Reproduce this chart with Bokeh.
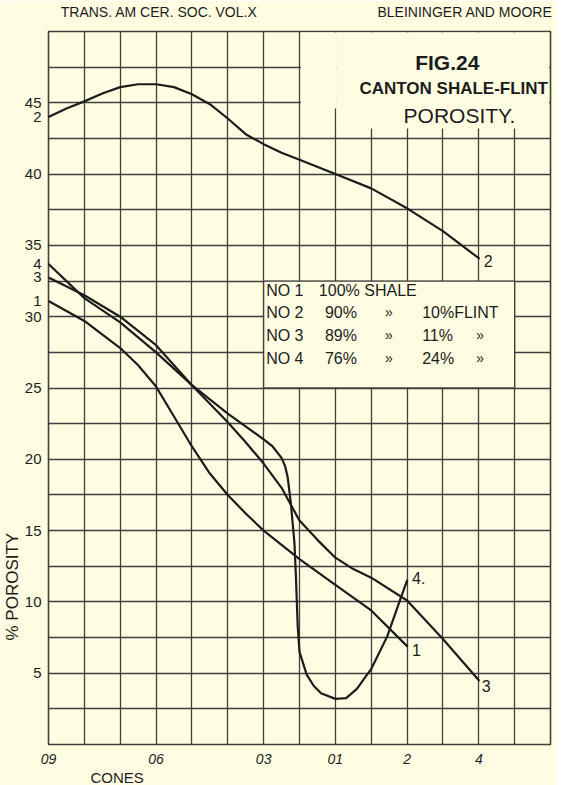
import math
from bokeh.plotting import figure
from bokeh.models import FixedTicker, Label, BoxAnnotation, Range1d, ColumnDataSource, LinearAxis, Title
from bokeh.embed import file_html
from bokeh.resources import INLINE

# ---------------- data ----------------
cones = ["09", "08", "07", "06", "05", "04", "03", "02", "01", "1", "2", "3", "4", "5", "6"]
labeled_cones = ["09", "06", "03", "01", "2", "4"]
porosity_ticks = [5, 10, 15, 20, 25, 30, 35, 40, 45]
porosity_tick_labels = ["5", "10", "15", "20", "25", "30", "35", "40", "45"]

# cone position (index into cones) / % porosity
no1_x = [0, 1, 2, 2.5, 3, 3.5, 4, 4.5, 5, 5.5, 6, 7, 8, 9, 10]
no1_y = [31.1, 29.7, 27.8, 26.6, 25.1, 23.0, 20.9, 19.0, 17.5, 16.2, 15.0, 13.0, 11.2, 9.4, 6.9]

no2_x = [0, 0.5, 1, 1.5, 2, 2.5, 3, 3.5, 4, 4.5, 5, 5.5, 6, 6.5, 7, 8, 9, 10, 11, 12]
no2_y = [44.0, 44.6, 45.1, 45.65, 46.1, 46.3, 46.3, 46.1, 45.6, 44.9, 43.9, 42.8, 42.1, 41.5, 41.0,
         40.0, 39.0, 37.6, 36.0, 34.1]

no3_x = [0, 1, 2, 3, 4, 5, 5.5, 6, 6.5, 7, 7.5, 8, 8.5, 9, 10, 11, 12]
no3_y = [32.75, 31.5, 30.0, 28.0, 25.2, 22.6, 21.2, 19.7, 18.0, 15.7, 14.35, 13.1, 12.3, 11.7, 10.1, 7.4, 4.5]

no4_x = [0, 1, 2, 3, 4, 5, 6, 6.25, 6.5, 6.6, 6.67, 6.76, 6.86, 6.9, 6.95, 7.0, 7.2, 7.4, 7.6, 8.0,
         8.3, 8.6, 9.0, 9.45, 9.8, 10.0]
no4_y = [33.7, 31.3, 29.6, 27.5, 25.2, 23.2, 21.4, 20.9, 20.1, 19.5, 18.75, 16.9, 14.1, 11.8, 8.3, 6.5,
         4.9, 4.1, 3.6, 3.2, 3.25, 3.9, 5.3, 7.6, 10.1, 11.5]

series_names = ["1", "2", "3", "4"]

legend_no = ["NO 1", "NO 2", "NO 3", "NO 4"]
legend_shale = ["100% SHALE", "90%", "89%", "76%"]
legend_ditto1 = ["", "\u00bb", "\u00bb", "\u00bb"]
legend_flint = ["", "10%FLINT", "11%", "24%"]
legend_ditto2 = ["", "", "\u00bb", "\u00bb"]

header_left = "TRANS. AM CER. SOC.  VOL.X"
header_right = "BLEININGER  AND MOORE"
fig_title = ["FIG.24", "CANTON SHALE-FLINT", "POROSITY."]
y_title = "% POROSITY"
x_title = "CONES"

# ---------------- style ----------------
BG = "#FEFDE1"
INK = "#1c1c1c"
GRID = "#3f3f3f"
FONT = "Liberation Sans"

all_series = [(no1_x, no1_y), (no2_x, no2_y), (no3_x, no3_y), (no4_x, no4_y)]

p = figure(width=557, height=785,
           x_range=Range1d(0, len(cones) - 1), y_range=Range1d(0, 50),
           output_backend="svg", toolbar_location=None,
           min_border_left=46, min_border_right=7, min_border_top=30, min_border_bottom=35,
           background_fill_color=BG, border_fill_color=BG)

p.outline_line_color = GRID
p.outline_line_width = 1.6

p.xgrid.ticker = FixedTicker(ticks=list(range(1, len(cones) - 1)))
p.ygrid.ticker = FixedTicker(ticks=[k * 2.5 for k in range(1, 20)])
p.grid.grid_line_color = GRID
p.grid.grid_line_width = 1.3
p.grid.grid_line_alpha = 1.0

# x axis: cone numbers
xax = p.below[0]
xax.ticker = FixedTicker(ticks=[cones.index(c) for c in labeled_cones])
xax.major_label_overrides = {cones.index(c): c for c in labeled_cones}

# y axis: porosity values, plus the curve numbers written at the left edge
y_ticks = list(porosity_ticks)
y_over = dict(zip(porosity_ticks, porosity_tick_labels))
for (xs, ys), name in zip(all_series, series_names):
    y_ticks.append(ys[0])
    y_over[ys[0]] = name
yax = p.left[0]
yax.ticker = FixedTicker(ticks=y_ticks)
yax.major_label_overrides = y_over

# running header as an axis above the frame
head_ax = LinearAxis(ticker=FixedTicker(ticks=[3.14, 11.67]),
                     major_label_overrides={3.14: header_left, 11.67: header_right})
p.add_layout(head_ax, "above")

for ax in (xax, yax, head_ax):
    ax.axis_line_color = None
    ax.major_tick_line_color = None
    ax.minor_tick_line_color = None
    ax.major_label_text_color = INK
    ax.major_label_text_font = FONT
xax.major_label_text_font_size = "14px"
xax.major_label_text_font_style = "italic"
xax.major_label_standoff = 3
yax.major_label_text_font_size = "15px"
yax.major_label_standoff = 1
head_ax.major_label_text_font_size = "14px"
head_ax.major_label_text_font_style = "normal"
head_ax.major_label_standoff = 6

# axis titles
p.add_layout(Title(text=y_title, align="left", offset=104, standoff=0,
                   text_font=FONT, text_font_size="17px", text_font_style="normal",
                   text_color=INK), "left")
p.add_layout(Title(text=x_title, align="left", offset=42, standoff=0,
                   text_font=FONT, text_font_size="15px", text_font_style="normal",
                   text_color=INK), "below")

# blank legend panel and blank title area
p.add_layout(BoxAnnotation(left=6, right=13, bottom=25, top=32.5,
                           fill_color=BG, fill_alpha=1.0,
                           line_color=GRID, line_width=1.3, line_alpha=1.0))
p.add_layout(BoxAnnotation(left=8.04, right=13.96, bottom=43.2, top=49.93,
                           fill_color=BG, fill_alpha=1.0, line_alpha=0.0))
p.add_layout(BoxAnnotation(left=7.04, right=8.04, bottom=44.6, top=49.93,
                           fill_color=BG, fill_alpha=1.0, line_alpha=0.0))

# curves
for xs, ys in all_series:
    src = ColumnDataSource(dict(x=xs, y=ys))
    p.line(x="x", y="y", source=src, line_color=INK, line_width=2.2,
           line_join="round", line_cap="round")


def lab(x, y, text, size="16px", align="left", baseline="middle", dx=0, dy=0,
        style="normal", angle=0.0):
    p.add_layout(Label(x=x, y=y, text=text, x_offset=dx, y_offset=dy,
                       text_font=FONT, text_font_size=size, text_font_style=style,
                       text_color=INK, text_align=align, text_baseline=baseline,
                       angle=angle))


# curve numbers at the end of each curve
end_offsets = {"1": (5, -4), "2": (5, -3), "3": (3, -6), "4": (5, 3)}
for (xs, ys), name in zip(all_series, series_names):
    dx, dy = end_offsets[name]
    lab(xs[-1], ys[-1], name + ("." if name == "4" else ""), size="16px", dx=dx, dy=dy)

# legend table
row_y = [31.85, 30.3, 28.7, 27.1]
for i in range(4):
    lab(6.07, row_y[i], legend_no[i], size="16px")
    lab(7.54 if i == 0 else 7.71, row_y[i], legend_shale[i], size="16px")
    if legend_ditto1[i]:
        lab(9.49, row_y[i], legend_ditto1[i], size="14px", align="center")
    if legend_flint[i]:
        lab(10.42, row_y[i], legend_flint[i], size="16px")
    if legend_ditto2[i]:
        lab(12.04, row_y[i], legend_ditto2[i], size="14px", align="center")

# figure title
lab(11.12, 47.8, fig_title[0], size="21px", align="center", style="bold")
lab(11.3, 46.0, fig_title[1], size="17px", align="center", style="bold")
lab(11.46, 44.1, fig_title[2], size="21px", align="center", style="normal")

open("out.html", "w").write(file_html(p, INLINE))
